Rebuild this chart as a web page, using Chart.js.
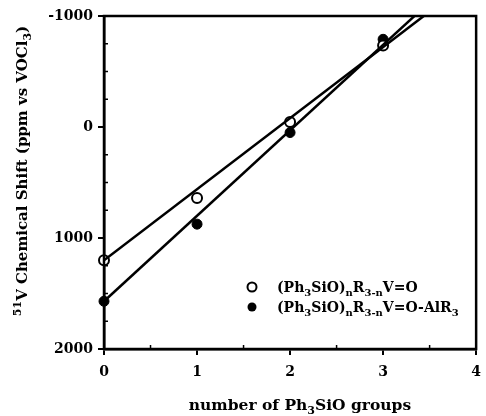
<!DOCTYPE html>
<html>
<head>
<meta charset="utf-8">
<script src="https://cdn.jsdelivr.net/npm/chart.js@4/dist/chart.umd.min.js"></script>
<style>
  body { margin: 0; background: #fff; overflow: hidden; }
  canvas { display: block; }
</style>
</head>
<body>
<canvas id="grafico" width="490" height="416"></canvas>
<script>
// datos
const gruposX = [0, 1, 2, 3]
const desplazamientoAbierto = [1200, 640, -45, -735]
const desplazamientoLleno = [1570, 875, 50, -790]
// rectas dibujadas en la figura (extremos en x = 0 y x = 4)
const rectaX = [0, 4]
const rectaAbierta = [1200, -1360]
const rectaLlena = [1570, -1510]
const ticksY = [-1000, 0, 1000, 2000]
const ticksX = [0, 1, 2, 3, 4]

// textos con subindices: [texto, modo]  n = normal, b = sub, p = super
const leyendaAbierto = [['(Ph','n'],['3','b'],['SiO)','n'],['n','b'],['R','n'],['3-n','b'],['V=O','n']]
const leyendaLleno = [['(Ph','n'],['3','b'],['SiO)','n'],['n','b'],['R','n'],['3-n','b'],['V=O-AlR','n'],['3','b']]
const tituloX = [['number of Ph','n'],['3','b'],['SiO groups','n']]
const tituloY = [['51','p'],['V Chemical Shift (ppm vs VOCl','n'],['3','b'],[')','n']]

const fuente = '"DejaVu Serif", "Liberation Serif", serif'

function serie(xs, ys) {
  return xs.map((x, i) => ({ x, y: ys[i] }))
}

function anchoRico(ctx, partes, size) {
  let w = 0
  partes.forEach(([t, modo]) => {
    ctx.font = 'bold ' + (modo === 'n' ? size : Math.round(size * 0.7)) + 'px ' + fuente
    w += ctx.measureText(t).width
  })
  return w
}

function textoRico(ctx, partes, x, y, size) {
  let cx = x
  partes.forEach(([t, modo]) => {
    const s = modo === 'n' ? size : Math.round(size * 0.7)
    ctx.font = 'bold ' + s + 'px ' + fuente
    let dy = 0
    if (modo === 'b') dy = size * 0.28
    if (modo === 'p') dy = -size * 0.38
    ctx.fillText(t, cx, y + dy)
    cx += ctx.measureText(t).width
  })
}

const extras = {
  id: 'extras',
  afterDraw(chart) {
    const ctx = chart.ctx
    const a = chart.chartArea
    const sx = chart.scales.x
    const sy = chart.scales.y
    ctx.save()
    ctx.strokeStyle = '#000'
    ctx.fillStyle = '#000'
    // marco
    ctx.lineWidth = 2.5
    ctx.strokeRect(a.left, a.top, a.right - a.left, a.bottom - a.top)
    // ticks menores
    ctx.lineWidth = 1.5
    for (let v = -750; v < 2000; v += 250) {
      if (v % 1000 === 0) continue
      const py = sy.getPixelForValue(v)
      ctx.beginPath(); ctx.moveTo(a.left, py); ctx.lineTo(a.left + 4, py); ctx.stroke()
    }
    for (let v = 0.5; v < 4; v += 1) {
      const px = sx.getPixelForValue(v)
      ctx.beginPath(); ctx.moveTo(px, a.bottom); ctx.lineTo(px, a.bottom - 4); ctx.stroke()
    }
    // leyenda
    const filas = [[leyendaAbierto, false], [leyendaLleno, true]]
    filas.forEach(([partes, lleno], i) => {
      const my = 287 + i * 20
      ctx.beginPath()
      ctx.arc(252, my, 4.5, 0, Math.PI * 2)
      if (lleno) ctx.fill()
      else { ctx.lineWidth = 2; ctx.stroke() }
      ctx.textBaseline = 'alphabetic'
      textoRico(ctx, partes, 277, my + 5, 14)
    })
    // titulo eje x
    const wx = anchoRico(ctx, tituloX, 15.5)
    textoRico(ctx, tituloX, 300 - wx / 2, 410, 15.5)
    // titulo eje y
    ctx.translate(27, 171)
    ctx.rotate(-Math.PI / 2)
    const wy = anchoRico(ctx, tituloY, 15)
    textoRico(ctx, tituloY, -wy / 2, 0, 15)
    ctx.restore()
  }
}

const config = {
  type: 'scatter',
  data: {
    datasets: [
      {
        label: 'recta abierta',
        type: 'line',
        data: serie(rectaX, rectaAbierta),
        borderColor: '#000',
        borderWidth: 2.5,
        pointRadius: 0,
        clip: 0
      },
      {
        label: 'recta llena',
        type: 'line',
        data: serie(rectaX, rectaLlena),
        borderColor: '#000',
        borderWidth: 2.5,
        pointRadius: 0,
        clip: 0
      },
      {
        label: 'abierto',
        data: serie(gruposX, desplazamientoAbierto),
        pointRadius: 5,
        pointBorderWidth: 2,
        pointBorderColor: '#000',
        pointBackgroundColor: '#fff',
        clip: false
      },
      {
        label: 'lleno',
        data: serie(gruposX, desplazamientoLleno),
        pointRadius: 5,
        pointBorderWidth: 1,
        pointBorderColor: '#000',
        pointBackgroundColor: '#000',
        clip: false
      }
    ]
  },
  options: {
    responsive: false,
    animation: false,
    layout: { padding: { top: 16, right: 0, left: 0, bottom: 0 } },
    plugins: { legend: { display: false }, tooltip: { enabled: false } },
    scales: {
      x: {
        type: 'linear',
        min: 0,
        max: 4,
        afterBuildTicks: s => { s.ticks = ticksX.map(v => ({ value: v })) },
        afterFit: s => { s.height = 67 },
        grid: { drawOnChartArea: false, tickLength: 6, color: '#000', lineWidth: 2 },
        border: { display: true, color: '#000', width: 2.5 },
        ticks: { color: '#000', padding: 9, callback: v => String(v), font: { family: fuente, size: 14, weight: 'bold' } }
      },
      y: {
        type: 'linear',
        reverse: true,
        min: -1000,
        max: 2000,
        afterBuildTicks: s => { s.ticks = ticksY.map(v => ({ value: v })) },
        afterFit: s => { s.width = 104 },
        grid: { drawOnChartArea: false, tickLength: 6, color: '#000', lineWidth: 2 },
        border: { display: true, color: '#000', width: 2.5 },
        ticks: { color: '#000', padding: 5, callback: v => String(v), font: { family: fuente, size: 14, weight: 'bold' } }
      }
    }
  },
  plugins: [extras]
}

new Chart(document.getElementById('grafico'), config)
</script>
</body>
</html>
